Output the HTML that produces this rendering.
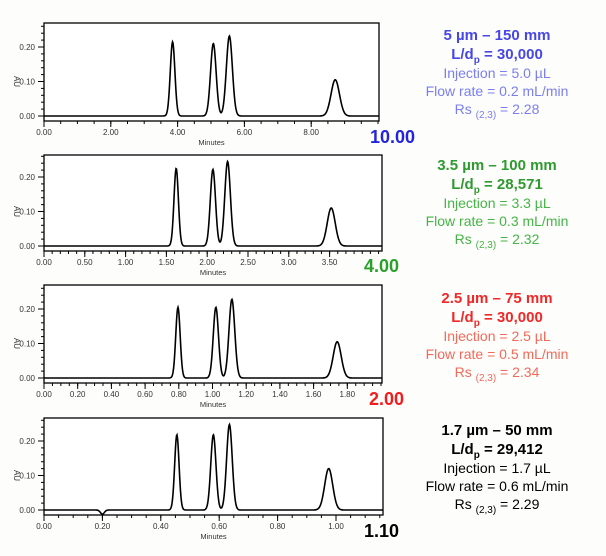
<!DOCTYPE html>
<html><head><meta charset="utf-8"><style>
body{margin:0;background:#fdfdfb;width:606px;height:556px;overflow:hidden;font-family:"Liberation Sans",sans-serif}
.t{position:absolute;left:392px;width:210px;text-align:center;font-size:14px;line-height:18px}
.t b{font-size:15px}
sub{font-size:10px;line-height:0;vertical-align:baseline;position:relative;top:4px}
.n{position:absolute;font-weight:bold;font-size:18px}
</style></head><body>
<svg id="s" width="606" height="556" style="position:absolute;left:0;top:0" font-family="Liberation Sans, sans-serif"></svg>
<div class="t" style="top:26px;color:#4747e6"><b>5 µm – 150 mm</b><br><b>L/d<sub>p</sub> = 30,000</b><br><span style="color:#7a7ef0">Injection = 5.0 µL<br>Flow rate = 0.2 mL/min<br>Rs <sub>(2,3)</sub> = 2.28</span></div>
<div class="t" style="top:156px;color:#2f9a2f"><b>3.5 µm – 100 mm</b><br><b>L/d<sub>p</sub> = 28,571</b><br><span style="color:#46b446">Injection = 3.3 µL<br>Flow rate = 0.3 mL/min<br>Rs <sub>(2,3)</sub> = 2.32</span></div>
<div class="t" style="top:289px;color:#f02828"><b>2.5 µm – 75 mm</b><br><b>L/d<sub>p</sub> = 30,000</b><br><span style="color:#f26a5a">Injection = 2.5 µL<br>Flow rate = 0.5 mL/min<br>Rs <sub>(2,3)</sub> = 2.34</span></div>
<div class="t" style="top:421px;color:#000"><b>1.7 µm – 50 mm</b><br><b>L/d<sub>p</sub> = 29,412</b><br>Injection = 1.7 µL<br>Flow rate = 0.6 mL/min<br>Rs <sub>(2,3)</sub> = 2.29</div>
<div class="n" style="left:370px;top:127px;color:#2323e0">10.00</div>
<div class="n" style="left:364px;top:256px;color:#2aa02a">4.00</div>
<div class="n" style="left:369px;top:389px;color:#f21c1c">2.00</div>
<div class="n" style="left:364px;top:521px;color:#000">1.10</div>
<script>
var s=document.getElementById('s'),h='';
var P=[
{top:23,z:116,d:34.5,xmax:10,ppu:33.4,ticks:[0,2,4,6,8],step:0.5,pk:[[3.85,.215,2.3],[5.07,.21,2.8],[5.55,.232,3],[8.72,.105,4.2]],right:379},
{top:155,z:246,d:34.5,xmax:4.14,ppu:81.6,ticks:[0,.5,1,1.5,2,2.5,3,3.5],step:0.1,pk:[[1.62,.225,2.2],[2.07,.222,2.6],[2.25,.245,2.8],[3.52,.11,4]],right:382},
{top:285,z:378,d:34.5,xmax:2.0,ppu:168.5,ticks:[0,.2,.4,.6,.8,1,1.2,1.4,1.6,1.8],step:0.05,pk:[[0.795,.205,2.2],[1.02,.205,2.6],[1.115,.228,2.9],[1.74,.105,4]],right:382},
{top:418,z:510,d:34.5,xmax:1.16,ppu:292,ticks:[0,.2,.4,.6,.8,1],step:0.05,pk:[[0.455,.218,2.2],[0.58,.218,2.6],[0.635,.248,2.8],[0.975,.12,4]],dip:true,right:383}];
P.forEach(function(p){
 var L=44,R=p.right,B=p.z+5;
 h+='<rect x="'+L+'" y="'+p.top+'" width="'+(R-L)+'" height="'+(B-p.top)+'" fill="#fff" stroke="#000" stroke-width="1.3"/>';
 for(var v=0;v<=0.26;v+=0.02){var y=p.z-v/0.1*p.d;if(y<p.top)break;h+='<line x1="'+(L-3)+'" x2="'+L+'" y1="'+y+'" y2="'+y+'" stroke="#000"/>';}
 [0,.1,.2].forEach(function(v){var y=p.z-v/0.1*p.d;h+='<line x1="'+(L-6)+'" x2="'+L+'" y1="'+y+'" y2="'+y+'" stroke="#000"/><text x="'+(L-9)+'" y="'+(y+3)+'" font-size="8" text-anchor="end" fill="#333">'+v.toFixed(2)+'</text>';});
 h+='<text transform="translate(14,'+(p.z-p.d)+') rotate(90)" font-size="8" text-anchor="middle" fill="#333">AU</text>';
 for(var x=0;x<=p.xmax+1e-6;x+=p.step){var X=L+x*p.ppu;if(X>R+0.5)break;h+='<line x1="'+X+'" x2="'+X+'" y1="'+B+'" y2="'+(B+3)+'" stroke="#000"/>';}
 p.ticks.forEach(function(t){var X=L+t*p.ppu;h+='<line x1="'+X+'" x2="'+X+'" y1="'+B+'" y2="'+(B+6)+'" stroke="#000"/><text x="'+X+'" y="'+(B+14)+'" font-size="8" text-anchor="middle" fill="#333">'+t.toFixed(2)+'</text>';});
 h+='<text x="'+((L+R)/2)+'" y="'+(B+24)+'" font-size="7.5" text-anchor="middle" fill="#333">Minutes</text>';
 var d='';
 for(var X=L;X<=R;X+=0.5){var y=0;p.pk.forEach(function(k){var c=L+k[0]*p.ppu;var dx=(X-c)/k[2];y+=k[1]*Math.exp(-dx*dx/2);});
  if(p.dip){var c=L+0.2*p.ppu,dx=(X-c)/2;y-=0.012*Math.exp(-dx*dx/2);}
  d+=(d?'L':'M')+X.toFixed(1)+','+(p.z-y/0.1*p.d).toFixed(1);}
 h+='<path d="'+d+'" fill="none" stroke="#000" stroke-width="1.6"/>';
});
s.innerHTML=h;
</script>
</body></html>
